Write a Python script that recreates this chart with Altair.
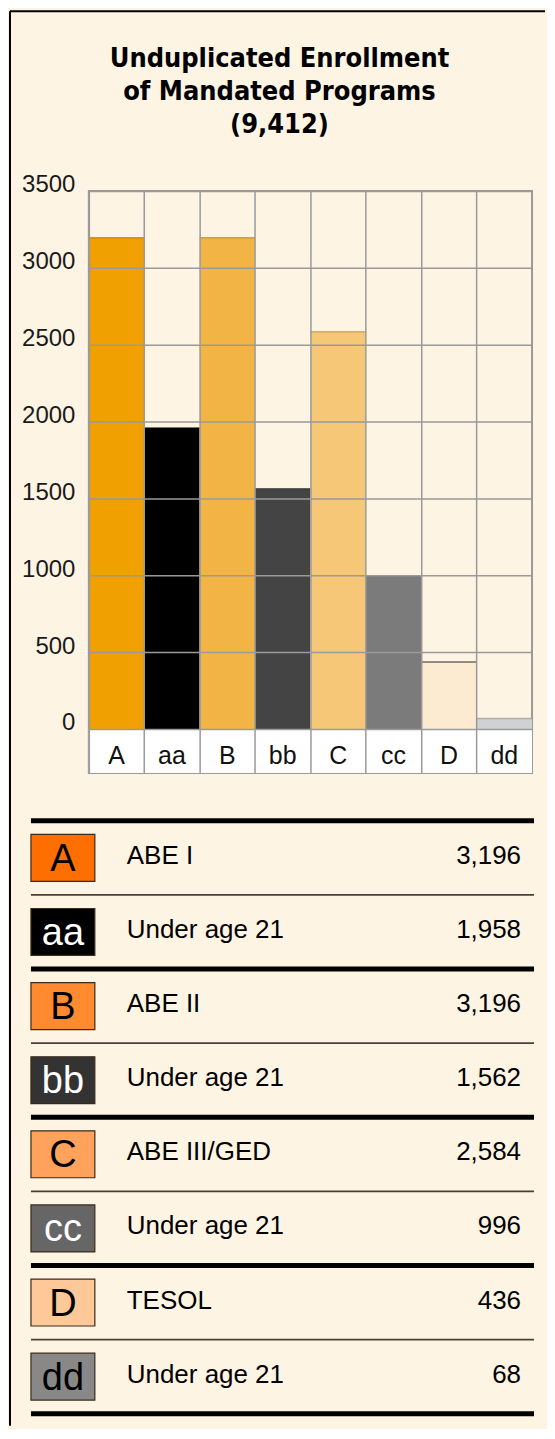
import altair as alt
import pandas as pd

# ---- data ----
CATS = ["A", "aa", "B", "bb", "C", "cc", "D", "dd"]
VALUES = [3196, 1958, 3196, 1562, 2584, 996, 436, 68]
NAMES = ["ABE I", "Under age 21", "ABE II", "Under age 21",
         "ABE III/GED", "Under age 21", "TESOL", "Under age 21"]
TITLE_LINES = ["Unduplicated Enrollment", "of Mandated Programs", "(9,412)"]
Y_TICKS = [0, 500, 1000, 1500, 2000, 2500, 3000, 3500]

# ---- styles ----
BAR_COLORS = ["#f0a000", "#000000", "#f2b444", "#444444",
              "#f6c777", "#7b7b7b", "#fcebd0", "#cfd1d4"]
BAR_TOPS = ["#b87a00", "#000000", "#b8862e", "#333333",
            "#c49550", "#666666", "#333333", "#999999"]
BOX_COLORS = ["#ff6f00", "#000000", "#ff8a30", "#333333",
              "#ffa35c", "#666666", "#ffc898", "#888888"]
BOX_TEXT = ["#000000", "#ffffff", "#000000", "#ffffff",
            "#000000", "#ffffff", "#000000", "#000000"]
BG = "#fdf4e4"
GRID = "#9a9a9a"
FONT = "Liberation Sans"
TITLE_FONT = "DejaVu Sans Condensed"

PW, PH = 444, 583           # bar panel (plot + label band)
BAND_MIN = -286             # label band below zero
LW, LH = 444, 594           # legend table panel

bars_df = pd.DataFrame({"cat": CATS, "value": VALUES})

xscale = alt.Scale(domain=CATS, paddingInner=0, paddingOuter=0)
yscale = alt.Scale(domain=[BAND_MIN, 3500], nice=False, zero=False)

x_axis = alt.Axis(title=None, orient="bottom", grid=True, gridColor=GRID,
                  gridWidth=1.5, bandPosition=0,
                  labelAngle=0, labelFont=FONT, labelFontSize=25,
                  labelColor="#111111", labelBaseline="alphabetic",
                  labelPadding=-9, ticks=False, tickSize=0, domain=False,
                  zindex=1)
y_axis = alt.Axis(title=None, values=Y_TICKS, format="d", grid=True,
                  gridColor=GRID, gridWidth=1.5, labelFont=FONT,
                  labelFontSize=24, labelColor="#1a1a1a", labelPadding=14,
                  labelBaseline="alphabetic", labelOffset=1,
                  labelFlush=False, ticks=False, domain=False, zindex=1)

one = alt.Data(values=[{}])

band = alt.Chart(one).mark_rect(color="white").encode(
    x=alt.value(0), x2=alt.value(PW),
    y=alt.Y(datum=0, scale=yscale, axis=y_axis),
    y2=alt.Y2(datum=BAND_MIN),
)

bars = alt.Chart(bars_df).mark_bar().encode(
    x=alt.X("cat:N", sort=CATS, scale=xscale, axis=x_axis),
    y=alt.Y("value:Q", scale=yscale, axis=y_axis),
    y2=alt.Y2(datum=0),
    color=alt.Color("cat:N", scale=alt.Scale(domain=CATS, range=BAR_COLORS),
                    legend=None),
)

tops = alt.Chart(bars_df).mark_tick(thickness=1.5, size=PW / len(CATS)).encode(
    x=alt.X("cat:N", sort=CATS, scale=xscale, axis=x_axis),
    y=alt.Y("value:Q", scale=yscale, axis=y_axis),
    color=alt.Color("cat:N", scale=alt.Scale(domain=CATS, range=BAR_TOPS),
                    legend=None),
)

title = alt.Chart(one).mark_text(
    font=TITLE_FONT, fontSize=27, fontWeight="bold", lineBreak="\n",
    lineHeight=33, align="center", baseline="alphabetic", color="#000000",
).encode(x=alt.value(191), y=alt.value(-124),
         text=alt.value("\n".join(TITLE_LINES)))

frame_v = alt.Chart(one).mark_rule(color="#000000", strokeWidth=2).encode(
    x=alt.value(-79), y=alt.value(-180), y2=alt.value(1237))
frame_h = alt.Chart(one).mark_rule(color="#000000", strokeWidth=2).encode(
    x=alt.value(-79), x2=alt.value(457), y=alt.value(-180))

bar_panel = alt.layer(band, bars, tops, title, frame_v, frame_h).resolve_scale(
    color="independent"
).properties(
    width=PW, height=PH,
    view=alt.ViewBackground(stroke=GRID, strokeWidth=2),
)

# ---- legend table ----
leg_df = pd.DataFrame({
    "i": list(range(len(CATS))), "cat": CATS, "name": NAMES, "value": VALUES,
})
rules_df = pd.DataFrame({
    "b": list(range(len(CATS) + 1)),
    "kind": ["thick" if k % 2 == 0 else "thin" for k in range(len(CATS) + 1)],
})

ly = alt.Scale(domain=[0, len(CATS)], reverse=True, nice=False, zero=False)
HALF = 23.5 / (LH / len(CATS))

rules = alt.Chart(rules_df).mark_rule().encode(
    x=alt.value(-58), x2=alt.value(446),
    y=alt.Y("b:Q", scale=ly, axis=None),
    strokeWidth=alt.StrokeWidth("kind:N", scale=alt.Scale(
        domain=["thick", "thin"], range=[5, 1.6]), legend=None),
    color=alt.Color("kind:N", scale=alt.Scale(
        domain=["thick", "thin"], range=["#000000", "#4a4038"]), legend=None),
)

base = alt.Chart(leg_df).transform_calculate(
    mid="datum.i + 0.5", y0=f"datum.i + 0.5 - {HALF}", y1=f"datum.i + 0.5 + {HALF}")

boxes = base.mark_rect(stroke="#3a2a1a", strokeWidth=1.2).encode(
    x=alt.value(-58), x2=alt.value(6),
    y=alt.Y("y0:Q", scale=ly, axis=None), y2="y1:Q",
    fill=alt.Fill("cat:N", scale=alt.Scale(domain=CATS, range=BOX_COLORS),
                  legend=None),
)
box_text = base.mark_text(font=FONT, fontSize=38, align="center",
                          baseline="alphabetic", dy=13).encode(
    x=alt.value(-26), y=alt.Y("mid:Q", scale=ly, axis=None),
    text="cat:N",
    color=alt.Color("cat:N", scale=alt.Scale(domain=CATS, range=BOX_TEXT),
                    legend=None),
)
names = base.mark_text(font=FONT, fontSize=26, align="left",
                       baseline="alphabetic", dy=6, color="#000000").encode(
    x=alt.value(38), y=alt.Y("mid:Q", scale=ly, axis=None), text="name:N")
vals = base.mark_text(font=FONT, fontSize=26, align="right",
                      baseline="alphabetic", dy=6, color="#000000").encode(
    x=alt.value(433), y=alt.Y("mid:Q", scale=ly, axis=None),
    text=alt.Text("value:Q", format=","))

legend_panel = alt.layer(rules, boxes, box_text, names, vals).resolve_scale(
    color="independent").properties(width=LW, height=LH)

chart = alt.vconcat(bar_panel, legend_panel, spacing=48, bounds="flush").properties(
    padding=0, background=BG,
).configure_view(stroke=None)

chart.save("out.html", embed_options={"renderer": "svg", "actions": False})
